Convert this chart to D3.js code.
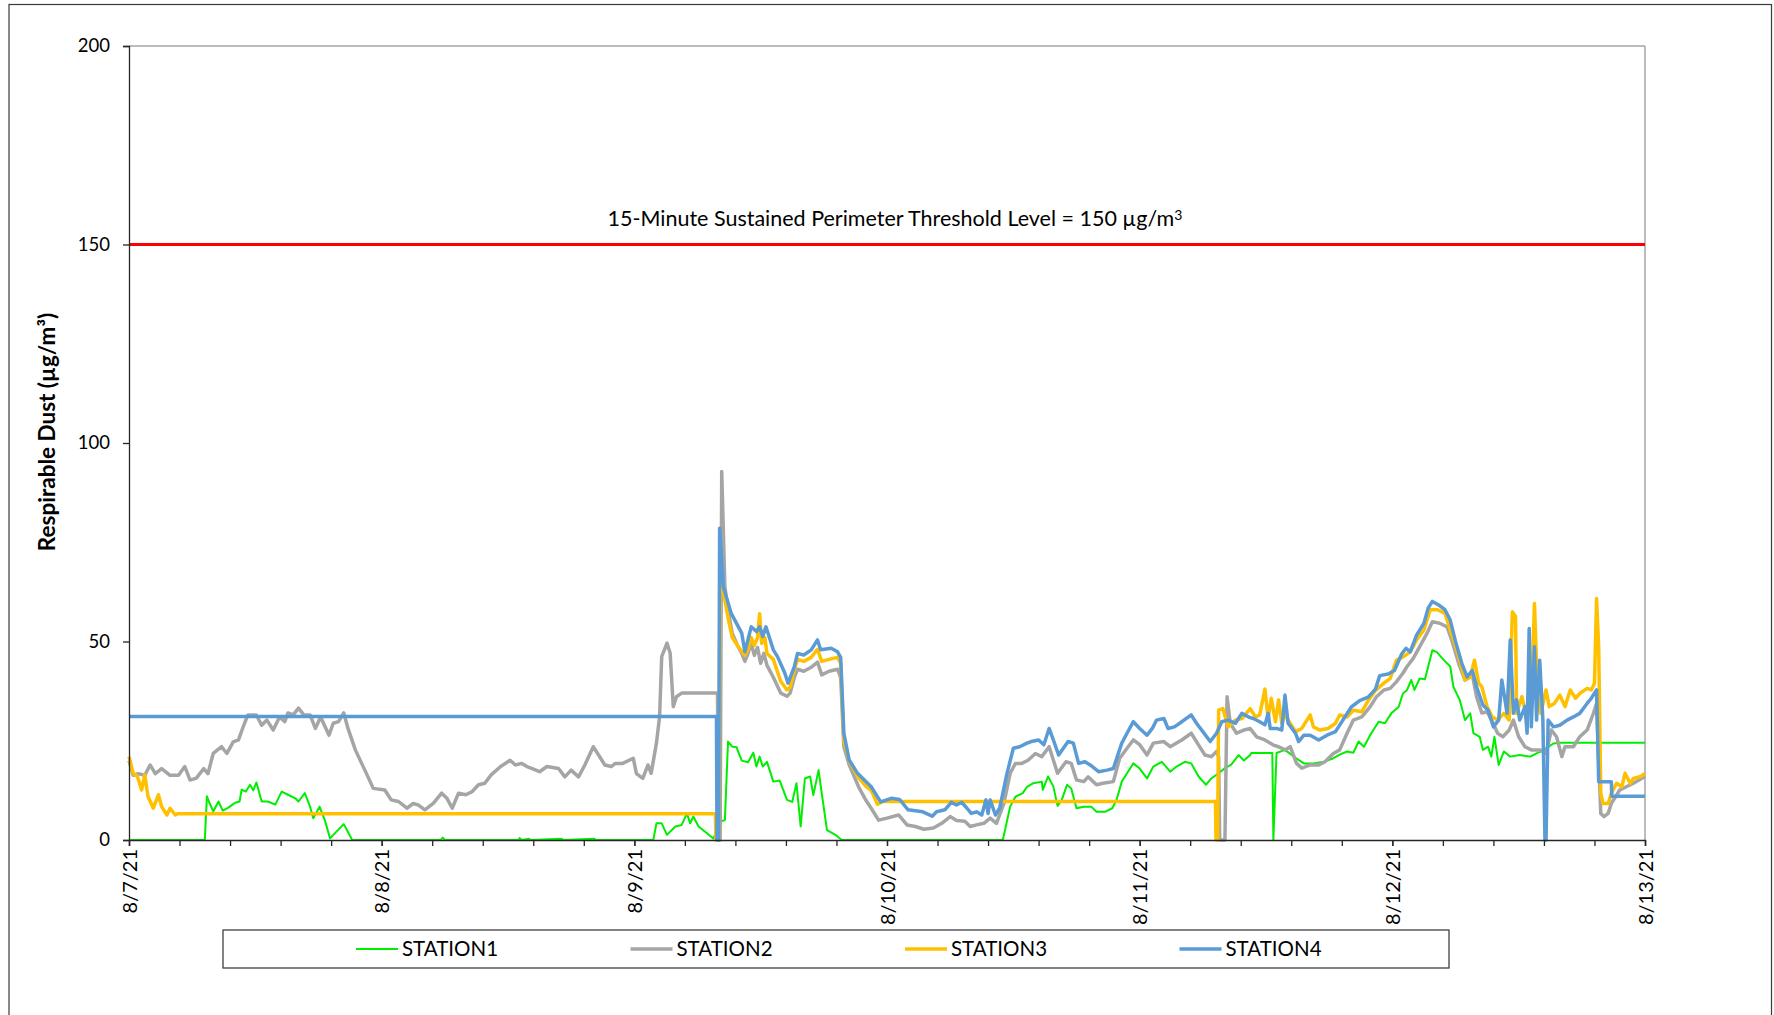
<!DOCTYPE html>
<html>
<head>
<meta charset="utf-8">
<script src="https://cdn.jsdelivr.net/npm/d3@7"></script>
<style>
  body { margin: 0; background: #fff; }
  svg text { font-family: Lato, "Open Sans", sans-serif; fill: #000; }
</style>
</head>
<body>
<div id="chart"></div>
<script>
// hours after 8/7/21 00:00, value in µg/m3
var station1 = [[0,0],[7.2,0],[7.4,11.0],[7.7,9],[8.0,7.2],[8.5,9.7],[8.9,7.4],[9.4,8.1],[10.1,9.4],[10.5,9.7],[10.7,12.7],[11.1,12.2],[11.5,13.9],[11.8,12.5],[12.1,14.5],[12.6,9.7],[13.2,9.7],[13.9,8.9],[14.5,12.2],[15.1,11.4],[15.8,10.5],[16.1,9.7],[16.7,11.8],[17.2,8.4],[17.5,5.5],[18.1,8.4],[18.6,5.0],[19.1,0.4],[19.7,2.1],[20.4,4.0],[20.7,2.5],[21.2,0],
  [29.6,0],[29.8,0.6],[30.0,0],[37.0,0],[37.1,0.5],[37.3,0],[38.0,0.3],[38.2,0],[41.1,0.3],[41.3,0],[44.2,0.3],[44.4,0],[49.8,0],
  [50.1,4.2],[50.6,4.2],[51.1,1.3],[51.9,3.4],[52.5,3.8],[53.0,6.7],[53.3,4.2],[53.6,5.9],[54.1,3.4],[54.9,1.7],[55.5,0.4],[55.8,2],[56.1,4.6],[56.6,5],[56.9,24.8],[57.3,23.5],[57.7,23.4],[58.2,20],[58.8,19.6],[59.3,22],[59.6,18.5],[59.9,21],[60.2,18.5],[60.6,19.7],[61.2,14.7],[61.8,15],[62.5,10.1],[63.0,9.6],[63.4,14.3],[63.8,3.4],[64.2,15.5],[64.7,16],[65.0,11.3],[65.5,17.6],[65.8,11.8],[66.3,2.5],[67.1,1.3],[67.7,0],
  [83.0,0],[83.7,8.4],[84.2,10.9],[84.9,11.8],[85.3,13.4],[85.9,14.3],[86.7,14.7],[86.8,12.6],[87.3,16],[87.8,13.5],[88.2,8.6],[88.6,10.1],[89.1,13.9],[89.5,13],[90.0,8.0],[90.7,8.4],[91.4,8.4],[91.9,7.1],[92.7,7.1],[93.4,8.0],[93.8,10.1],[94.3,14.7],[94.8,16.8],[95.4,19.3],[96.0,18],[96.7,15.5],[97.3,18.5],[98.1,19.7],[98.9,17.2],
  [99.5,18.5],[100.3,19.7],[100.9,19.3],[101.6,16],[102.3,13.9],[102.8,15.5],[103.5,16.8],[104.1,18.1],[104.7,19],[105.4,21.4],[105.9,20],[106.5,21.4],[106.6,21.9],[108.6,21.9],[108.7,0],[109.0,21.9],[109.8,22.7],[110.8,20.7],[111.6,19.3],[112.5,19.3],[113.5,19.7],[114.4,20.6],[115.0,21.5],[115.7,22.3],[116.3,22],[116.8,24.8],[117.3,23.5],[118.0,26.9],[118.7,29.8],[119.3,29.4],[119.9,31.9],[120.6,33.5],[121.0,36.9],[121.4,37.8],[121.8,40.3],[122.1,37.8],[122.6,40.7],[123.1,40.5],[123.8,47.8],[124.2,47.4],[124.9,45.3],[125.5,43.7],[125.8,38.6],[126.4,35.3],[126.9,30.2],[127.4,31.9],[127.7,26.9],[128.3,26],[128.6,22.7],[129.1,23.5],[129.4,21],[129.7,26],[130.1,18.9],[130.6,22.3],[131.2,21],[132.1,21.4],[133.1,21],[133.7,21.8],[134.4,22.7],[135.3,24.3],[135.9,24.5],[144,24.5]];

var station2 = [[0,20],[0.4,16.3],[0.9,16.7],[1.5,16.3],[2.0,18.9],[2.5,16.7],[3.1,18],[3.9,16.3],[4.7,16.3],[5.3,18.5],[5.8,15.1],[6.4,15.6],[7.1,18],[7.5,16.7],[8.0,21.8],[8.8,23.5],[9.3,21.8],[9.9,24.7],[10.4,25.2],[10.9,28.9],[11.3,31.5],[12.1,31.5],[12.6,28.9],[13.1,30.2],[13.7,27.7],[14.3,31],[14.8,29.8],[15.1,32],[15.6,31.5],[16.1,33.2],[16.6,31.5],[17.2,31.5],[17.7,28.1],[18.2,31],[19.0,26.4],[19.4,29.4],[19.9,29.8],[20.4,32],[20.8,28.1],[21.5,22.7],[22.1,19.3],[22.7,15.9],[23.2,13],[24.3,12.6],[24.9,10.1],[25.6,9.7],[26.4,8.0],[27.0,9.2],[27.5,8.8],[28.1,7.6],[28.9,9.2],[29.7,11.8],[30.2,10.5],[30.7,8.0],[31.3,11.8],[32.0,11.4],[32.6,12.2],[33.2,13.9],[33.8,14.3],[34.4,16.4],[35.3,18.5],[36.2,20.1],[36.7,18.9],[37.3,19.3],[37.8,18.5],[38.3,18],[39.0,17.2],[39.7,18.5],[40.8,18],[41.4,15.9],[42.0,17.6],[42.7,15.9],[43.3,18.9],[44.1,23.5],[44.6,21.4],[45.2,18.9],[45.8,18.5],[46.2,19.3],[46.9,19.3],[47.9,20.6],[48.2,16.7],[48.8,15.5],[49.3,18.9],[49.6,16.8],
  [50.1,24.4],[50.4,31.1],[50.6,46.2],[51.1,49.6],[51.4,47.1],[51.7,33.6],[52.0,36.1],[52.5,37],[55.9,37],[56.0,0],[56.15,0],[56.3,92.8],[56.6,63.8],[56.9,58],[57.3,52],[57.8,49],[58.2,47],[58.5,45],[58.8,47],[59.1,49.5],[59.4,46.5],[59.7,48.5],[60.0,44.5],[60.3,47],[60.6,44],[61.2,41],[61.9,37],[62.5,36.2],[62.8,37],[63.2,41],[63.5,43],[64.1,42.5],[64.8,43.5],[65.4,44.8],[65.8,41.6],[66.5,42.5],[67.3,43],[67.6,41],[67.9,23.5],[68.4,19],[69.3,13.4],[70.0,10],[70.5,8],[71.2,5],[72.0,5.5],[73.1,6.3],[73.9,3.8],[74.7,3.4],[75.5,2.7],[76.4,3.0],[77.2,4.2],[78.0,5.9],[78.6,4.9],[79.4,4.7],[79.9,3.4],[80.5,3.8],[81.2,4.2],[81.8,5.5],[82.4,4.2],[83.1,9.2],[83.7,16.8],[84.2,19.3],[84.8,19.3],[85.4,20.1],[86.1,21.8],[86.7,21],[87.4,23.5],[88.2,16.8],[89.0,19.7],[89.5,19.3],[90.0,15.1],[90.7,14.7],[91.1,15.9],[91.9,13.9],[92.5,14.3],[93.5,14.7],[94.1,20.6],[94.8,23.1],[95.4,25.2],[96.0,24],[96.7,21.4],[97.3,24.4],[98.3,24.8],[98.9,23.5],[100.0,25.2],
  [100.9,26.9],[101.6,23.9],[102.2,21.4],[102.8,21],[103.3,22.3],[103.5,21],[103.6,0],[104.1,0],[104.3,36.1],[104.6,29.4],[105.2,26.9],[105.9,27.7],[106.5,28.1],[107.1,26],[107.9,25.2],[108.7,23.9],[109.2,23.5],[109.8,22.7],[110.3,23.5],[110.9,19.3],[111.4,18.1],[112.2,18.9],[113.0,18.9],[113.6,19.7],[114.4,21.8],[115.0,22.7],[115.7,26.9],[116.3,30.2],[117.1,31],[117.9,33.6],[118.5,36.1],[119.2,37.8],[119.8,38.2],[120.4,39.9],[121.0,42],[121.4,43.7],[122.0,45.8],[122.6,48.7],[123.3,52.1],[123.8,55],[124.5,54.6],[125.2,53.7],[125.7,49.9],[126.3,44.5],[126.9,40.3],[127.6,41.6],[128.0,36.1],[128.5,32],[129.0,32.3],[129.5,29.8],[130.0,26.9],[130.5,26],[131.1,27.7],[131.5,30.2],[132.0,26],[132.6,23.5],[133.2,22.7],[134.0,22.7],[134.6,21.8],[135.1,27.7],[135.6,26],[136.1,21],[136.4,23.5],[137.2,23.5],[137.8,26],[138.5,27.7],[139.1,31.9],[139.4,34.4],[139.8,6.7],[140.1,5.9],[140.5,6.7],[140.8,9.2],[141.6,12.6],[142.9,14.3],[144,16]];

var station3 = [[0,21],[0.4,16.8],[0.8,16],[1.2,12.6],[1.5,16.4],[1.8,11],[2.3,8.0],[2.8,11.4],[3.1,8.4],[3.6,6.3],[3.9,8],[4.4,6.3],[4.6,6.6],[55.7,6.6],[55.75,0],[56.0,0],[56.15,68],[56.5,62],[56.9,56],[57.3,51],[57.8,49],[58.2,47.5],[58.5,46.5],[58.8,48],[59.1,51],[59.4,49],[59.7,51],[59.9,57],[60.1,49.5],[60.4,51],[60.6,47],[61.2,45.5],[61.9,40],[62.5,37.8],[62.8,38.5],[63.2,43],[63.5,45.5],[64.1,45],[64.8,46],[65.4,48],[65.8,45],[66.5,45.5],[67.3,46],[67.6,44.5],[67.9,25],[68.4,20],[69.2,16],[70.0,13.5],[70.5,12.5],[71.1,9],[71.6,9.7],
  [103.2,9.7],[103.25,0],[103.4,0],[103.5,32.7],[103.9,33.1],[104.4,28.5],[105.1,30.2],[105.7,30.6],[106.5,33.1],[107.0,31],[107.4,31.5],[107.9,38],[108.2,30.6],[108.5,35.7],[108.9,29.8],[109.2,35.3],[109.5,29.4],[109.8,31.5],[110.8,27.3],[111.4,28.1],[112.2,31.5],[112.5,28.5],[113.1,27.7],[113.9,28.1],[114.6,29.4],[115.0,31.5],[115.7,31],[116.3,32.7],[117.1,32.3],[117.7,35.1],[118.4,37.7],[119.2,39.5],[119.8,40.7],[120.4,45.3],[121.0,46.1],[121.7,47.4],[122.3,50.4],[123.0,52.9],[123.6,58],[124.3,58],[125.0,57.1],[125.6,52.1],[126.3,46.2],[126.9,40.3],[127.4,41],[127.8,45.3],[128.2,39.5],[128.5,38.6],[129.0,33.6],[129.5,31],[130.0,30.2],[130.6,31.9],[131.1,30.2],[131.4,57.5],[131.7,56.3],[131.8,31.9],[132.3,36.1],[132.7,31.9],[133.2,33.6],[133.5,59.6],[133.8,36.1],[134.1,31.9],[134.6,37.8],[134.9,33.6],[135.4,34.4],[135.9,36.5],[136.4,33.6],[136.9,37.8],[137.4,35.7],[137.8,36.9],[138.5,38.2],[138.9,37.8],[139.2,39.5],[139.4,60.8],[139.6,48.7],[139.8,11.8],[140.0,9.2],[140.5,9.2],[140.8,11.8],[141.3,14.3],[141.8,13.4],[142.1,16.8],[142.6,14.3],[142.9,15.5],[143.6,16],[144,16.8]];

var station4 = [[0,31.1],[55.8,31.1],[55.85,0],[56.0,0],[56.1,78.5],[56.45,63.8],[57.2,57.1],[58.2,52.1],[58.5,47.4],[59.1,53.7],[59.6,52.5],[59.9,53.7],[60.2,51.3],[60.5,53.7],[61.2,47.9],[61.6,46.2],[62.3,42],[62.6,39.5],[63.2,43.7],[63.5,47],[64.1,46.6],[64.8,47.9],[65.4,50.4],[65.7,47.9],[66.7,48.3],[67.3,47.4],[67.6,46],[67.9,26.9],[68.4,20.2],[69.2,16.8],[70.5,13.4],[71.4,9.6],[72.4,10.5],[73.2,10.2],[74.0,7.6],[75.4,7.1],[76.3,6.0],[76.7,7.1],[77.5,7.6],[78.1,9.5],[78.6,8.8],[79.1,9.5],[79.6,8.0],[80.0,6.7],[80.5,7.1],[81.0,6.3],[81.4,10.1],[81.6,6.7],[81.8,10.1],[82.3,6.3],[82.7,8.0],[83.4,16.8],[84.0,23.1],[84.6,23.5],[85.3,24.4],[85.7,24.8],[86.4,25.2],[86.9,24],[87.4,28.1],[87.8,25.2],[88.3,21.4],[89.2,24.8],[89.7,24.4],[90.2,19.3],[90.8,19.7],[91.3,18.9],[92.1,17.2],[92.9,17.6],[93.5,18],[94.3,24.4],[94.8,26.9],[95.4,29.8],[96.0,28.1],[96.7,26.4],[97.2,28.1],[97.6,30.2],[98.3,30.6],[98.7,28.1],[99.3,28.5],[99.8,29.4],
  [100.9,31.5],[101.4,29.4],[102.0,27.3],[102.7,24.8],[103.3,26.9],[103.8,29.8],[104.4,30.2],[105.1,29.4],[105.7,31.9],[106.4,30.9],[106.8,30.6],[107.4,29.8],[107.9,29],[108.2,31.9],[108.4,28.1],[109.0,28.1],[109.5,27.7],[109.8,36.5],[110.1,29.4],[110.8,26.9],[111.1,24.8],[111.6,26.4],[112.2,26.4],[113.0,25.2],[113.8,26.4],[114.6,27.3],[115.4,30.6],[116.1,33.5],[116.9,35.1],[117.7,36],[118.4,38],[118.8,41.4],[119.6,41.8],[120.2,42.7],[120.9,46.9],[121.3,48.3],[121.7,47.4],[122.3,51.6],[123.0,54.6],[123.4,58.4],[123.8,60.1],[124.4,59.2],[125.0,58],[125.5,55.4],[126.0,50],[126.6,44.5],[127.1,41.1],[127.6,42.7],[128.0,38.6],[128.6,34],[129.1,32.7],[129.6,28.5],[130.1,30.2],[130.4,40.3],[130.7,35.3],[130.9,31.9],[131.2,50.4],[131.5,31.9],[131.8,35.3],[132.1,30.2],[132.6,33.6],[132.8,26.9],[133.0,53.3],[133.2,28.5],[133.5,48.7],[133.7,30.2],[134.0,45.3],[134.3,30.2],[134.5,0],[134.6,0],[134.8,30.2],[135.3,28.5],[135.9,28.9],[136.6,30.2],[137.2,31],[137.8,31.9],[138.5,34.4],[138.9,35.7],[139.4,37.8],[139.6,14.7],[140.8,14.7],[140.85,11],[144,11]];

var seriesNames = ["STATION1", "STATION2", "STATION3", "STATION4"];
var seriesColors = ["#00ee00", "#a5a5a5", "#ffc000", "#5b9bd5"];
var seriesWidths = [2, 3.5, 3.5, 3.5];
var yTicks = [0, 50, 100, 150, 200];
var threshold = 150;
var thresholdLabel = "15-Minute Sustained Perimeter Threshold Level = 150 µg/m";
var yTitle = "Respirable Dust (µg/m³)";

var startDate = new Date(2021, 7, 7);
var endDate = new Date(2021, 7, 13);

var width = 1774, height = 1015;
var margin = {left: 129, right: 129, top: 46, bottom: 175};
var plotW = 1645 - margin.left, plotH = 840 - margin.top;

var svg = d3.select("#chart").append("svg")
    .attr("width", width)
    .attr("height", height);

// outer frame
svg.append("rect")
    .attr("x", 9).attr("y", 4.5)
    .attr("width", 1762.5).attr("height", 1020)
    .attr("fill", "none").attr("stroke", "#3a3a3a").attr("stroke-width", 1.2);

var g = svg.append("g").attr("transform", "translate(" + margin.left + "," + margin.top + ")");

var x = d3.scaleTime().domain([startDate, endDate]).range([0, plotW]);
var y = d3.scaleLinear().domain([0, 200]).range([plotH, 0]);

function toDate(h) { return new Date(startDate.getTime() + h * 3600 * 1000); }

// plot frame, top and right in grey
g.append("line").attr("x1", 0).attr("x2", plotW).attr("y1", y(200)).attr("y2", y(200))
    .attr("stroke", "#a6a6a6").attr("stroke-width", 1.5);
g.append("line").attr("x1", plotW).attr("x2", plotW).attr("y1", y(200)).attr("y2", y(0))
    .attr("stroke", "#a6a6a6").attr("stroke-width", 1.5);

// threshold line
g.append("line")
    .attr("x1", 0).attr("x2", plotW)
    .attr("y1", y(threshold)).attr("y2", y(threshold))
    .attr("stroke", "#ff0000").attr("stroke-width", 3);

var title = g.append("text")
    .attr("x", 766).attr("y", y(threshold) - 19)
    .attr("text-anchor", "middle")
    .style("font-size", "21.5px")
    .text(thresholdLabel);
title.append("tspan")
    .attr("dy", "-0.4em")
    .style("font-size", "14px")
    .text("3");

// series
var line = d3.line()
    .x(function (d) { return x(toDate(d[0])); })
    .y(function (d) { return y(d[1]); });

[station1, station2, station3, station4].forEach(function (data, i) {
    g.append("path")
        .datum(data)
        .attr("fill", "none")
        .attr("stroke", seriesColors[i])
        .attr("stroke-width", seriesWidths[i])
        .attr("stroke-linejoin", "round")
        .attr("d", line);
});

// y axis
var yAxis = g.append("g")
    .call(d3.axisLeft(y).tickValues(yTicks).tickSize(6).tickPadding(13));
yAxis.selectAll("text").style("font-size", "18.5px");

// x axis: days with minor ticks every 0.2 day
var minorTicks = d3.range(0, 145, 4.8).map(toDate);
var xMinor = g.append("g")
    .attr("transform", "translate(0," + plotH + ")")
    .call(d3.axisBottom(x).tickValues(minorTicks).tickSize(6).tickFormat(""));
xMinor.select(".domain").remove();

var xAxis = g.append("g")
    .attr("transform", "translate(0," + plotH + ")")
    .call(d3.axisBottom(x).ticks(d3.timeDay.every(1)).tickSize(6).tickFormat(d3.timeFormat("%-m/%-d/%y")));
xAxis.selectAll("text")
    .style("font-size", "20px")
    .attr("text-anchor", "end")
    .attr("transform", "rotate(-90)")
    .attr("x", -9)
    .attr("y", 0)
    .attr("dy", "0.35em");

svg.selectAll(".domain, .tick line").attr("stroke", "#262626").attr("stroke-width", 1.3);

// y title
svg.append("text")
    .attr("transform", "translate(47," + (margin.top + plotH / 2 - 11) + ") rotate(-90)")
    .attr("text-anchor", "middle")
    .attr("dy", "0.35em")
    .style("font-size", "22.5px")
    .style("font-weight", "bold")
    .text(yTitle);

// legend
var legend = svg.append("g").attr("transform", "translate(223,930)");
legend.append("rect")
    .attr("width", 1226).attr("height", 38)
    .attr("fill", "#fff").attr("stroke", "#404040").attr("stroke-width", 1.3);

var item = legend.selectAll(".item")
    .data(seriesNames)
    .enter().append("g")
    .attr("transform", function (d, i) { return "translate(" + (133 + i * 274.5) + ",19)"; });
item.append("line")
    .attr("x1", 0).attr("x2", 42)
    .attr("stroke", function (d, i) { return seriesColors[i]; })
    .attr("stroke-width", function (d, i) { return seriesWidths[i]; });
item.append("text")
    .attr("x", 46).attr("dy", "0.35em")
    .style("font-size", "20.5px")
    .text(function (d) { return d; });
</script>
</body>
</html>
